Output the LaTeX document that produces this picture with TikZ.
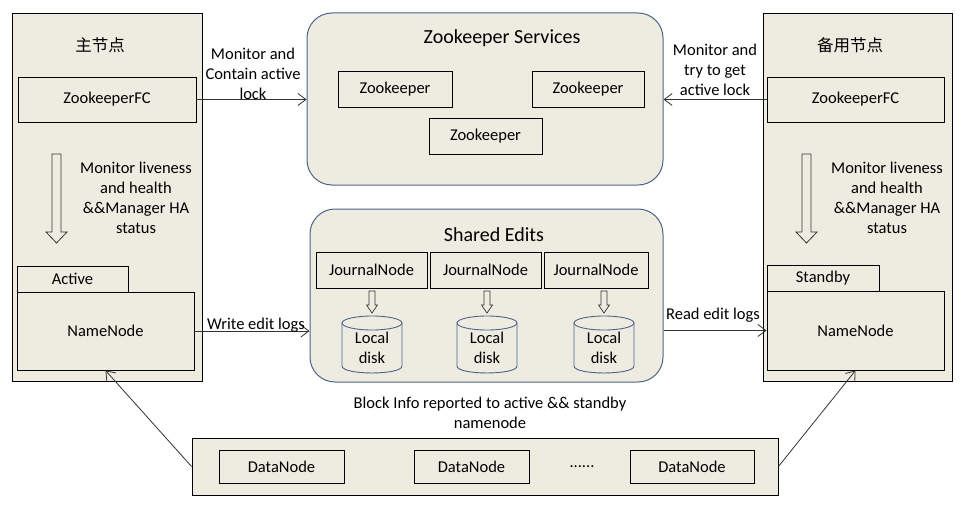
\documentclass[tikz,border=0pt]{standalone}
\usepackage{fontspec}
\setmainfont{Carlito}
\newfontfamily\cjk{Noto Sans CJK SC}
\usetikzlibrary{arrows.meta}
\definecolor{beige}{HTML}{EEECE1}
\definecolor{rborder}{HTML}{4A6489}
\tikzset{
  outerbox/.style={draw=black, line width=1pt, fill=beige, inner sep=0pt},
  plainbox/.style={draw=black, line width=0.9pt, fill=beige, inner sep=0pt},
  rbox/.style={draw=rborder, line width=1pt, fill=beige, rounded corners=25pt, inner sep=0pt},
  conn/.style={draw=black!80, line width=0.8pt, -{Straight Barb[length=8pt,width=12pt]}},
  plainline/.style={draw=black!80, line width=0.8pt},
  hollow/.style={draw=black!80, line width=0.8pt, fill=beige},
  cyl/.style={draw=rborder, line width=0.9pt, fill=beige},
  lbl/.style={align=center, inner sep=0pt},
  title/.style={inner sep=0pt, font=\fontsize{20}{24}\selectfont},
}
\begin{document}
\begin{tikzpicture}[x=1pt, y=-1pt, font=\fontsize{16.5}{20}\selectfont]
\useasboundingbox[fill=white] (0,0) rectangle (968,511);

% left column
\node[outerbox, minimum width=190, minimum height=367] (leftcol) at (107,197.5) {};
\node[lbl] (lefttitle) at (100,45) {\cjk 主节点};
\node[plainbox, minimum width=178, minimum height=45] (zkfcL) at (107,99.5) {ZookeeperFC};
\draw[hollow] (52,154) -- (61,154) -- (61,232) -- (67,232) -- (56.5,243) -- (46,232) -- (52,232) -- cycle;
\node[lbl] (monL) at (136,198) {Monitor liveness\\and health\\\&\&Manager HA\\status};
\node[plainbox, minimum width=111, minimum height=26] (activetab) at (72.5,279) {Active};
\node[plainbox, minimum width=177, minimum height=78] (nnL) at (105.5,331) {NameNode};

% right column
\node[outerbox, minimum width=189, minimum height=367] (rightcol) at (857.5,197.5) {};
\node[lbl] (righttitle) at (850,45) {\cjk 备用节点};
\node[plainbox, minimum width=177, minimum height=45] (zkfcR) at (855.5,99.5) {ZookeeperFC};
\draw[hollow] (802,154) -- (811,154) -- (811,232) -- (817,232) -- (806.5,243) -- (796,232) -- (802,232) -- cycle;
\node[lbl] (monR) at (887,198) {Monitor liveness\\and health\\\&\&Manager HA\\status};
\node[plainbox, minimum width=112, minimum height=26] (standbytab) at (823,278) {Standby};
\node[plainbox, minimum width=177, minimum height=79] (nnR) at (855.5,330.5) {NameNode};

% zookeeper services
\node[rbox, minimum width=356, minimum height=172] (zks) at (485,99) {};
\node[title] (zkstitle) at (502,38) {Zookeeper Services};
\node[plainbox, minimum width=114, minimum height=36] (zk1) at (395,89) {Zookeeper};
\node[plainbox, minimum width=112, minimum height=36] (zk2) at (588,89) {Zookeeper};
\node[plainbox, minimum width=113, minimum height=36] (zk3) at (485.5,136) {Zookeeper};

% shared edits
\node[rbox, minimum width=353, minimum height=173] (shared) at (486.5,295.5) {};
\node[title] (sharedtitle) at (494,235) {Shared Edits};
\node[plainbox, minimum width=111, minimum height=36] (jn1) at (371.5,270) {JournalNode};
\node[plainbox, minimum width=111, minimum height=36] (jn2) at (485.5,270) {JournalNode};
\node[plainbox, minimum width=104, minimum height=36] (jn3) at (596,270) {JournalNode};
\foreach \cx [count=\i] in {372,487,604} {
  \draw[hollow, line width=0.7pt] ({\cx-3},291) -- ({\cx+3},291) -- ({\cx+3},305) -- ({\cx+5.5},305) -- (\cx,313) -- ({\cx-5.5},305) -- ({\cx-3},305) -- cycle;
  \filldraw[cyl] ({\cx-30},323) -- ({\cx-30},366) .. controls ({\cx-30},375.3) and ({\cx+30},375.3) .. ({\cx+30},366) -- ({\cx+30},323) -- cycle;
  \draw[cyl] (\cx,323) ellipse[x radius=30, y radius=7];
  \node[lbl] (disk\i) at (\cx,348) {Local\\disk};
}

% data nodes
\node[plainbox, minimum width=586, minimum height=57] (data) at (485,466.5) {};
\node[plainbox, minimum width=125, minimum height=33] (dn1) at (281.5,466.5) {DataNode};
\node[plainbox, minimum width=115, minimum height=33] (dn2) at (471.5,466.5) {DataNode};
\node[plainbox, minimum width=124, minimum height=33] (dn3) at (692,466.5) {DataNode};
\node[lbl] (dots) at (582,467) {......};
\node[lbl] (blockinfo) at (490,413) {Block Info reported to active \&\& standby\\namenode};

% connectors
\draw[conn] (zkfcL.east) -- (zkfcL.east -| zks.west);
\node[lbl] (lblL) at (253,74) {Monitor and\\Contain active\\lock};
\draw[conn] (zkfcR.west) -- (zkfcR.west -| zks.east);
\node[lbl] (lblR) at (715,70) {Monitor and\\try to get\\active lock};
\draw[conn] (nnL.east) -- (nnL.east -| shared.west);
\node[lbl] (writelbl) at (256,325) {Write edit logs};
\draw[conn] (nnR.west -| shared.east) -- (nnR.west);
\node[lbl] (readlbl) at (713,315) {Read edit logs};
\draw[conn] (data.west) -- (nnL.south);
\draw[conn] (data.east) -- (nnR.south);
\end{tikzpicture}
\end{document}
